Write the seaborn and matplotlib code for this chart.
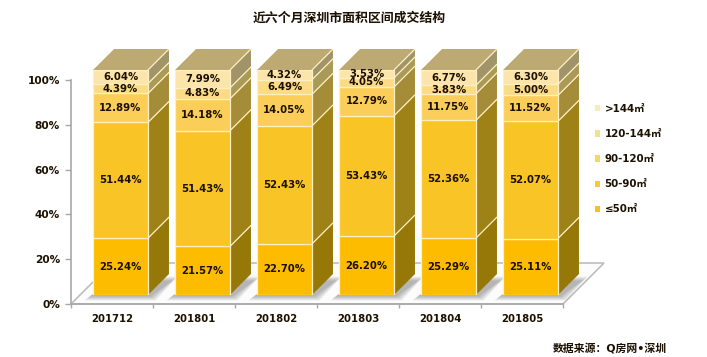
import numpy as np
import pandas as pd
import seaborn as sns
import matplotlib.pyplot as plt
from matplotlib.patches import Polygon, Patch

months = ['201712', '201801', '201802', '201803', '201804', '201805']
bands = ['≤50㎡', '50-90㎡', '90-120㎡', '120-144㎡', '>144㎡']
le50 = [25.24, 21.57, 22.70, 26.20, 25.29, 25.11]
b50_90 = [51.44, 51.43, 52.43, 53.43, 52.36, 52.07]
b90_120 = [12.89, 14.18, 14.05, 12.79, 11.75, 11.52]
b120_144 = [4.39, 4.83, 6.49, 4.05, 3.83, 5.00]
gt144 = [6.04, 7.99, 4.32, 3.53, 6.77, 6.30]
series = [le50, b50_90, b90_120, b120_144, gt144]

front_cols = ['#FDBC00', '#F8C426', '#FACE58', '#FBDB85', '#FCE5AA']
side_cols = ['#967808', '#9E8218', '#A58C38', '#A99A58', '#A09468']
legend_cols = ['#F9C01E', '#F8C840', '#F9D765', '#F5E08E', '#FBEBBB']
seam = '#FFF0C4'
top_col = '#BCAA72'
ink = '#1C1000'

sns.set_theme(style='white')
plt.rcParams['font.family'] = ['DejaVu Sans', 'Noto Sans CJK SC']
plt.rcParams['font.weight'] = 'bold'

W, H = 707, 357
fig = plt.figure(figsize=(W / 100, H / 100), dpi=100)
# main axes carries the scale, second axes is the same scale pushed back for the 3d look
ax = fig.add_axes([71 / W, (H - 304) / H, 492 / W, 224 / H])
bx = fig.add_axes([79.5 / W, (H - 295) / H, 492 / W, 225 / H])
bx.patch.set_visible(False)

# floor
floor_dx, floor_dy = 0.5, 18.3
ax.add_patch(Polygon([(-0.5, 0), (-0.5 + floor_dx, floor_dy), (5.5 + floor_dx, floor_dy), (5.5, 0)],
                     closed=True, fc='#FCFCFC', ec='#BDBDBD', lw=1.2, clip_on=False, zorder=1))

ax.set_xlim(-0.5, 5.5)
ax.set_ylim(0, 100)
ax.set_xticks(range(6), months)
ax.set_xticks(np.arange(-0.5, 6), minor=True)
ax.set_yticks(range(0, 101, 20), [f'{v}%' for v in range(0, 101, 20)])
ax.tick_params(axis='x', which='major', length=0, labelsize=7.3, pad=7.5, labelcolor=ink)
ax.tick_params(axis='x', which='minor', length=3, width=1, color='#A8A8A8', bottom=True)
ax.tick_params(axis='y', length=4, width=1, color='#A8A8A8', left=True, labelsize=7.6, pad=4, labelcolor=ink)
ax.patch.set_visible(False)
for s in ['top', 'right']:
    ax.spines[s].set_visible(False)
for s in ['left', 'bottom']:
    ax.spines[s].set_color('#A8A8A8')
    ax.spines[s].set_linewidth(1.2)

width = 0.67
dx, dy = 21 / 82, 21 / 2.25

# soft shadow round the foot of each bar
for i in range(6):
    x0, x1 = i - width / 2, i + width / 2
    for k in range(5):
        g = k * 0.016
        h = k * 0.45
        bx.add_patch(Polygon([(x0 - 0.04 - g, -0.6 - h), (x1 + 0.03 + g, -0.6 - h),
                              (x1 + dx + 0.04 + g, dy - 3 + h), (x0 + dx, dy - 3 + h)],
                             closed=True, fc='#606060', ec='none', alpha=0.11,
                             clip_on=False, zorder=1))

# stacked front faces
bottom = np.zeros(6)
for band, vals, col in zip(bands, series, front_cols):
    df = pd.DataFrame({'month': months, 'share': vals})
    sns.barplot(data=df, x='month', y='share', ax=bx, color=col, saturation=1, width=width,
                bottom=bottom, edgecolor=seam, linewidth=0.9, zorder=4)
    for i, v in enumerate(vals):
        bx.text(i, bottom[i] + v / 2, f'{v:.2f}%', ha='center', va='center', fontsize=7.3,
                color=ink, zorder=6)
    # side face
    for i, v in enumerate(vals):
        xr = i + width / 2
        b, t = bottom[i], bottom[i] + v
        bx.add_patch(Polygon([(xr, b), (xr + dx, b + dy), (xr + dx, t + dy), (xr, t)], closed=True,
                             fc=side_cols[bands.index(band)], ec='none', clip_on=False, zorder=3))
        bx.plot([xr, xr + dx], [t, t + dy], color=seam, lw=0.9, clip_on=False, zorder=3.5)
    bottom = bottom + np.array(vals)

# top faces
for i in range(6):
    x0, x1 = i - width / 2, i + width / 2
    bx.add_patch(Polygon([(x0, bottom[i]), (x0 + dx, bottom[i] + dy), (x1 + dx, bottom[i] + dy), (x1, bottom[i])],
                         closed=True, fc=top_col, ec='none', clip_on=False, zorder=3))
bx.set_xlim(-0.5, 5.5)
bx.set_ylim(0, 100)
bx.axis('off')

handles = [Patch(fc=c, ec='none', label=b) for c, b in zip(legend_cols, bands)]
fig.legend(handles=handles[::-1], loc='upper left', bbox_to_anchor=(594.5 / W, (H - 104) / H), frameon=False,
           fontsize=7.4, handlelength=0.55, handleheight=0.55, handletextpad=0.44, labelspacing=1.47,
           borderpad=0, borderaxespad=0, labelcolor=ink)

fig.text(349 / W, (H - 18.5) / H, '近六个月深圳市面积区间成交结构', ha='center', va='center', fontsize=9.3, color=ink)
fig.text(667 / W, (H - 349) / H, '数据来源：Q房网•深圳', ha='right', va='center', fontsize=7.8, color=ink)

fig.savefig('out.png', dpi=100)
